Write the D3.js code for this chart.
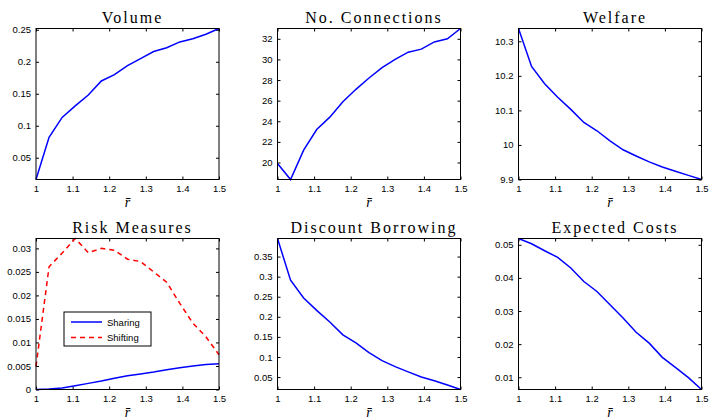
<!DOCTYPE html>
<html>
<head>
<meta charset="utf-8">
<script src="https://cdn.jsdelivr.net/npm/d3@7"></script>
<style>
  body { margin: 0; background: #fff; }
  .tick text { font-family: "Liberation Sans", Arial, sans-serif; font-size: 9.5px; fill: #000; }
  .tick line { stroke: #000; }
  .title { font-family: "Liberation Serif", "DejaVu Serif", serif; font-size: 16px; letter-spacing: 2px; }
</style>
</head>
<body>
<div class="app"></div>
<script>
// x grid (r bar)
var rbar = [1, 1.0357, 1.0714, 1.1071, 1.1429, 1.1786, 1.2143, 1.25, 1.2857, 1.3214, 1.3571, 1.3929, 1.4286, 1.4643, 1.5];
var xTicks = [1, 1.1, 1.2, 1.3, 1.4, 1.5];

var volume = [0.016, 0.082, 0.113, 0.131, 0.148, 0.170, 0.180, 0.194, 0.205, 0.216, 0.222, 0.231, 0.236, 0.243, 0.252];
var connections = [19.9, 18.35, 21.2, 23.2, 24.4, 25.9, 27.1, 28.2, 29.2, 30.0, 30.7, 31.0, 31.7, 32.0, 33.0];
var welfare = [10.337, 10.227, 10.177, 10.138, 10.103, 10.065, 10.041, 10.012, 9.986, 9.968, 9.951, 9.936, 9.924, 9.912, 9.9];
var sharing = [0, 0.0001, 0.0003, 0.0008, 0.0013, 0.0018, 0.0024, 0.0029, 0.0033, 0.0037, 0.0042, 0.0046, 0.0050, 0.0053, 0.0055];
var shifting = [0.0049, 0.0261, 0.0290, 0.0321, 0.0291, 0.0300, 0.0296, 0.0277, 0.0272, 0.0250, 0.0228, 0.0183, 0.0141, 0.0112, 0.0074];
var discount = [0.395, 0.291, 0.247, 0.216, 0.187, 0.155, 0.135, 0.111, 0.091, 0.076, 0.063, 0.050, 0.041, 0.030, 0.019];
var costs = [0.0519, 0.0503, 0.0482, 0.0462, 0.0430, 0.0389, 0.0359, 0.0319, 0.0279, 0.0236, 0.0203, 0.0160, 0.0130, 0.0099, 0.0063];

var titles = ["Volume", "No. Connections", "Welfare", "Risk Measures", "Discount Borrowing", "Expected Costs"];
var yTicksVolume = [0.05, 0.1, 0.15, 0.2, 0.25];
var yTicksConnections = [20, 22, 24, 26, 28, 30, 32];
var yTicksWelfare = [9.9, 10, 10.1, 10.2, 10.3];
var yTicksRisk = [0, 0.005, 0.01, 0.015, 0.02, 0.025, 0.03];
var yTicksDiscount = [0.05, 0.1, 0.15, 0.2, 0.25, 0.3, 0.35];
var yTicksCosts = [0.01, 0.02, 0.03, 0.04, 0.05];
var legendLabels = ["Sharing", "Shifting"];

var panels = [
  {series: [volume], yTicks: yTicksVolume},
  {series: [connections], yTicks: yTicksConnections},
  {series: [welfare], yTicks: yTicksWelfare},
  {series: [sharing, shifting], yTicks: yTicksRisk, legend: true},
  {series: [discount], yTicks: yTicksDiscount},
  {series: [costs], yTicks: yTicksCosts}
];

var W = 711, H = 418,
    colLeft = [36, 277.5, 518.5],
    rowTop = [28.5, 238.5],
    pw = 183, ph = 151;

var svg = d3.select(".app").append("svg")
    .attr("width", W)
    .attr("height", H);

var fmt = d3.format("~g");
var styles = [
  {stroke: "#0000ff", dash: null},
  {stroke: "#ff0000", dash: "5,4"}
];

panels.forEach(function(p, i) {
  var g = svg.append("g")
      .attr("transform", "translate(" + colLeft[i % 3] + "," + rowTop[Math.floor(i / 3)] + ")");

  var all = [].concat.apply([], p.series);
  var x = d3.scaleLinear().domain([1, 1.5]).range([0, pw]);
  var y = d3.scaleLinear().domain(d3.extent(all)).range([ph, 0]);

  var tk = 3;
  g.append("g").attr("transform", "translate(0," + ph + ")")
      .call(d3.axisBottom(x).tickValues(xTicks).tickFormat(fmt).tickSize(-tk).tickPadding(6));
  g.append("g")
      .call(d3.axisTop(x).tickValues(xTicks).tickFormat("").tickSize(-tk));
  g.append("g")
      .call(d3.axisLeft(y).tickValues(p.yTicks).tickFormat(fmt).tickSize(-tk).tickPadding(5));
  g.append("g").attr("transform", "translate(" + pw + ",0)")
      .call(d3.axisRight(y).tickValues(p.yTicks).tickFormat("").tickSize(-tk));
  g.selectAll(".domain").remove();

  var line = d3.line()
      .x(function(d, j) { return x(rbar[j]); })
      .y(function(d) { return y(d); });

  p.series.forEach(function(s, k) {
    g.append("path")
        .datum(s)
        .attr("d", line)
        .attr("fill", "none")
        .attr("stroke", styles[k].stroke)
        .attr("stroke-width", 1.5)
        .attr("stroke-dasharray", styles[k].dash);
  });

  g.append("rect")
      .attr("width", pw).attr("height", ph)
      .attr("fill", "none").attr("stroke", "#000").attr("stroke-width", 1);

  g.append("text")
      .attr("class", "title")
      .attr("x", pw / 2 + 5)
      .attr("y", -6)
      .attr("text-anchor", "middle")
      .text(titles[i]);

  g.append("text")
      .attr("x", pw / 2)
      .attr("y", ph + 27)
      .attr("text-anchor", "middle")
      .style("font-family", "Liberation Serif, serif")
      .style("font-style", "italic")
      .style("font-size", "14px")
      .text("r\u0304");

  if (p.legend) {
    var lg = g.append("g").attr("transform", "translate(28,73.5)");
    lg.append("rect")
        .attr("width", 87).attr("height", 34)
        .attr("fill", "#fff").attr("stroke", "#000").attr("stroke-width", 1);
    legendLabels.forEach(function(lab, k) {
      var yy = 10 + k * 15.5;
      lg.append("line")
          .attr("x1", 7).attr("x2", 38).attr("y1", yy).attr("y2", yy)
          .attr("stroke", styles[k].stroke).attr("stroke-width", 1.5)
          .attr("stroke-dasharray", styles[k].dash);
      lg.append("text")
          .attr("x", 43).attr("y", yy + 3.5)
          .style("font-family", "Liberation Sans, Arial, sans-serif")
          .style("font-size", "9.5px")
          .text(lab);
    });
  }
});
</script>
</body>
</html>
